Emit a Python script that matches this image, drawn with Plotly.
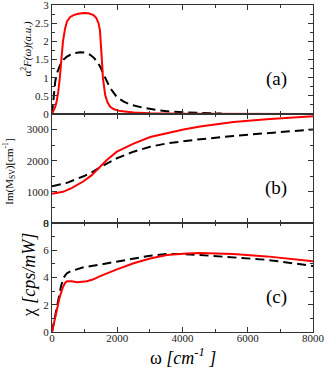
import plotly.graph_objects as go
from plotly.subplots import make_subplots

# panel (a): alpha^2 F(omega)
w_a_red = [0, 50, 100, 137, 190, 240, 290, 336, 400, 460, 560, 663, 800, 967, 1120, 1273, 1360, 1426,
           1470, 1508, 1535, 1560, 1600, 1630, 1700, 1784, 1900, 2090, 2500, 3000, 4000, 5000, 8000]
a_red = [0, 0.08, 0.2, 0.32, 0.6, 1.0, 1.5, 2.0, 2.35, 2.55, 2.67, 2.72, 2.76, 2.78, 2.77, 2.72, 2.64, 2.5,
         2.3, 1.9, 1.4, 1.0, 0.7, 0.52, 0.32, 0.2, 0.13, 0.08, 0.04, 0.02, 0.008, 0.003, 0]
w_a_blk = [0, 30, 60, 100, 150, 250, 357, 460, 560, 700, 865, 1000, 1170, 1280, 1373, 1480, 1577, 1680,
           1780, 1984, 2200, 2390, 2800, 3200, 3610, 4100, 4630, 5200]
a_blk = [0, 0.35, 0.65, 0.9, 1.12, 1.35, 1.5, 1.58, 1.63, 1.68, 1.7, 1.69, 1.63, 1.55, 1.45, 1.3, 1.1, 0.9,
         0.72, 0.47, 0.34, 0.26, 0.17, 0.11, 0.07, 0.045, 0.025, 0.012]

# panel (b): Im(M_SV)
w_b = [0, 336, 600, 967, 1200, 1375, 1680, 1990, 2500, 3010, 3520, 4030, 4540, 5560, 6580, 8000]
b_red = [940, 1000, 1120, 1340, 1520, 1700, 2025, 2290, 2550, 2760, 2890, 3005, 3100, 3240, 3330, 3430]
w_b_blk = [0, 460, 967, 1273, 1477, 1990, 2500, 3010, 3520, 4540, 5560, 6580, 8000]
b_blk = [1180, 1290, 1500, 1655, 1795, 2080, 2290, 2450, 2555, 2690, 2795, 2890, 3005]

# panel (c): chi
w_c_red = [0, 137, 240, 336, 400, 460, 600, 765, 900, 1070, 1250, 1477, 1990, 2500, 3010, 3520, 4130,
           4540, 5560, 6580, 8000]
c_red = [0, 1.4, 2.6, 3.3, 3.6, 3.72, 3.72, 3.66, 3.67, 3.72, 3.85, 4.1, 4.6, 5.05, 5.4, 5.65, 5.77,
         5.8, 5.72, 5.55, 5.2]
w_c_blk = [0, 100, 190, 280, 357, 450, 560, 967, 1477, 1990, 2500, 3010, 3520, 4030, 4540, 5560, 6580, 8000]
c_blk = [0, 1.3, 2.5, 3.4, 4.0, 4.3, 4.45, 4.75, 4.95, 5.15, 5.4, 5.6, 5.72, 5.72, 5.65, 5.45, 5.3, 4.85]

RED = "#ff0000"
FONT = "Liberation Serif, serif"

fig = make_subplots(rows=3, cols=1, shared_xaxes=True, vertical_spacing=0)

def red(x, y):
    return go.Scatter(x=x, y=y, mode="lines", line=dict(color=RED, width=2), showlegend=False)

def blk(x, y):
    return go.Scatter(x=x, y=y, mode="lines", line=dict(color="black", width=2, dash="9px,5px"),
                      showlegend=False)

fig.add_trace(blk(w_a_blk, a_blk), row=1, col=1)
fig.add_trace(red(w_a_red, a_red), row=1, col=1)
fig.add_trace(blk(w_b_blk, b_blk), row=2, col=1)
fig.add_trace(red(w_b, b_red), row=2, col=1)
fig.add_trace(blk(w_c_blk, c_blk), row=3, col=1)
fig.add_trace(red(w_c_red, c_red), row=3, col=1)

axis_common = dict(showline=True, linecolor="#333", linewidth=1, mirror="ticks", ticks="inside",
                   ticklen=5, tickcolor="#333", showgrid=False, zeroline=False, automargin=False,
                   ticklabeloverflow="allow",
                   tickfont=dict(family=FONT, size=11, color="#222"))

for r in (1, 2, 3):
    fig.update_xaxes(range=[0, 8000], dtick=2000, showticklabels=(r == 3),
                     minor=dict(dtick=1000, ticks="inside", ticklen=3, tickcolor="#333"),
                     row=r, col=1, **axis_common)
fig.update_xaxes(ticklabelstandoff=-4, row=3, col=1)

fig.update_yaxes(range=[0, 3], dtick=0.5, row=1, col=1,
                 minor=dict(dtick=0.25, ticks="inside", ticklen=3, tickcolor="#333"), **axis_common)
fig.update_yaxes(range=[0, 3500], dtick=1000, row=2, col=1,
                 minor=dict(dtick=500, ticks="inside", ticklen=3, tickcolor="#333"), **axis_common)
fig.update_yaxes(range=[0, 8], dtick=2, row=3, col=1,
                 minor=dict(dtick=1, ticks="inside", ticklen=3, tickcolor="#333"), **axis_common)

# axis titles as annotations, placed in paper coordinates
titles = [
    ("α<sup>2</sup><i>F(ω)(a.u.)</i>", "y domain", -0.096, 0.6, 11),
    ("Im(M<sub>SV</sub>)[cm<sup>-1</sup>]", "y2 domain", -0.165, 0.47, 11),
    ("χ <i>[cps/mW]</i>", "y3 domain", -0.088, 0.52, 18),
]
for text, yref, x, y, size in titles:
    fig.add_annotation(text=text, xref="paper", yref=yref, x=x, y=y, textangle=-90,
                       xanchor="center", yanchor="middle", showarrow=False,
                       font=dict(family=FONT, size=size, color="black"))

fig.add_annotation(text="ω <i>[cm<sup>-1</sup> ]</i>", xref="paper", yref="paper", x=0.502, y=-0.074,
                   xanchor="center", yanchor="middle", showarrow=False,
                   font=dict(family=FONT, size=18, color="black"))

for ref, label in (("y", "(a)"), ("y2", "(b)"), ("y3", "(c)")):
    fig.add_annotation(text=label, xref="x", yref=ref + " domain", x=6866, y=0.2,
                       showarrow=False, font=dict(family=FONT, size=19, color="black"))

fig.update_layout(width=327, height=376, margin=dict(l=52, r=14, t=5, b=44),
                  plot_bgcolor="white", paper_bgcolor="white", font=dict(family=FONT))

# drop the default 8px page margin so the figure sits at the window's corner
fig.write_html("out.html", config={"displayModeBar": False},
               post_script="document.body.style.margin='0';")
